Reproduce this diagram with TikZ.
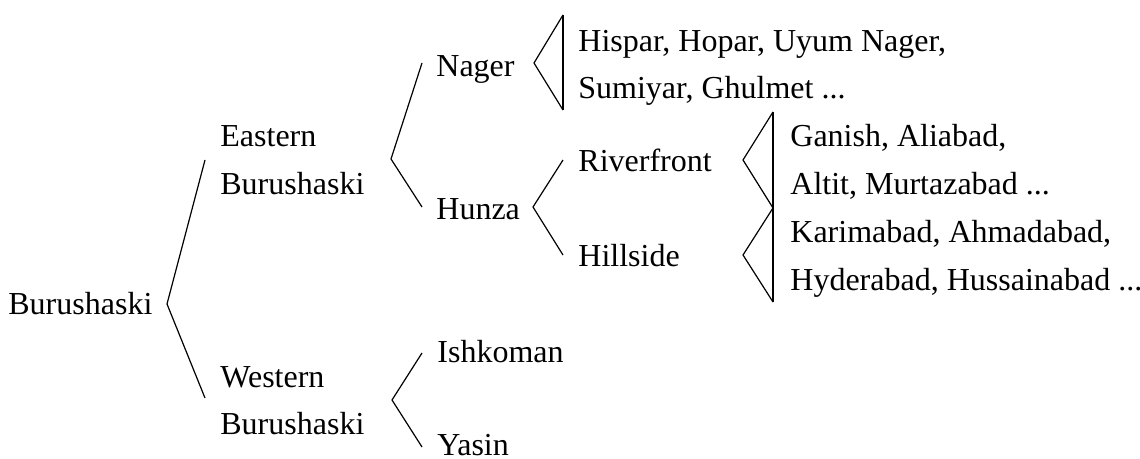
\documentclass[tikz,border=0pt]{standalone}
\usepackage{fontspec}
\setmainfont{Liberation Serif}
\begin{document}
\begin{tikzpicture}[x=0.5pt,y=-0.5pt,
  lbl/.style={anchor=base west, inner sep=0pt, font=\fontsize{16}{19}\selectfont},
  branch/.style={line width=0.6pt, line join=miter},
  bar/.style={line width=1.2pt}]
\useasboundingbox (0,0) rectangle (1140,459);

% labels
\node[lbl] (root)  at (8,315)   {Burushaski};
\node[lbl] (east1) at (220,147) {Eastern};
\node[lbl] (east2) at (220,195) {Burushaski};
\node[lbl] (west1) at (220,387) {Western};
\node[lbl] (west2) at (220,435) {Burushaski};
\node[lbl] (nager) at (436,77)  {Nager};
\node[lbl] (hunza) at (436,220) {Hunza};
\node[lbl] (ishk)  at (437,363) {Ishkoman};
\node[lbl] (yasin) at (437,455) {Yasin};
\node[lbl] (river) at (578,172) {Riverfront};
\node[lbl] (hill)  at (578,267) {Hillside};
\node[lbl] (nv1)   at (578,52)  {Hispar, Hopar, Uyum Nager,};
\node[lbl] (nv2)   at (578,99)  {Sumiyar, Ghulmet ...};
\node[lbl] (rv1)   at (790,147) {Ganish, Aliabad,};
\node[lbl] (rv2)   at (790,195) {Altit, Murtazabad ...};
\node[lbl] (hv1)   at (790,243) {Karimabad, Ahmadabad,};
\node[lbl] (hv2)   at (790,291) {Hyderabad, Hussainabad ...};

% branch points
\coordinate (rootV) at (167,304);
\coordinate (rootT) at (205,160);
\coordinate (rootB) at (205,398);
\coordinate (eastV) at (391,159);
\coordinate (eastT) at (422,63);
\coordinate (eastB) at (422,207);
\coordinate (westV) at (392,400);
\coordinate (westT) at (422,353);
\coordinate (westB) at (422,447);
\coordinate (nagV)  at (534,63);
\coordinate (nagT)  at (563,15);
\coordinate (nagB)  at (563,110);
\coordinate (hunV)  at (533,207);
\coordinate (hunT)  at (563,160);
\coordinate (hunB)  at (563,255);
\coordinate (rivV)  at (743,160);
\coordinate (rivT)  at (773,112);
\coordinate (mid)   at (773,208);
\coordinate (hilV)  at (743,255);
\coordinate (hilB)  at (773,302);

% branches
\draw[branch] (rootT) -- (rootV) -- (rootB);
\draw[branch] (eastT) -- (eastV) -- (eastB);
\draw[branch] (westT) -- (westV) -- (westB);
\draw[branch] (nagT) -- (nagV) -- (nagB);
\draw[branch] (hunT) -- (hunV) -- (hunB);
\draw[branch] (rivT) -- (rivV) -- (mid);
\draw[branch] (mid) -- (hilV) -- (hilB);

% village bars
\draw[bar] (nagT) -- (nagB);
\draw[bar] (rivT) -- (hilB);
\end{tikzpicture}
\end{document}
